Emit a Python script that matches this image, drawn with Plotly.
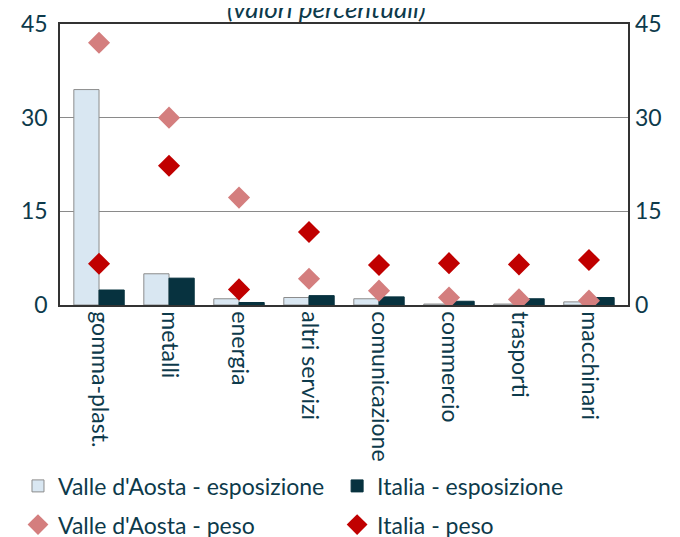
import plotly.graph_objects as go

categorie = ["gomma-plast.", "metalli", "energia", "altri servizi",
             "comunicazione", "commercio", "trasporti", "macchinari"]
vda_esposizione = [34.5, 5.0, 1.0, 1.2, 1.0, 0.15, 0.15, 0.5]
ita_esposizione = [2.4, 4.3, 0.4, 1.5, 1.3, 0.6, 1.0, 1.2]
vda_peso = [42.0, 30.0, 17.2, 4.2, 2.3, 1.2, 0.9, 0.7]
ita_peso = [6.6, 22.3, 2.5, 11.7, 6.4, 6.7, 6.5, 7.2]
tick_vals = [0, 15, 30, 45]

TEXT = "#0d3a4b"
FONT = "Lato"

fig = go.Figure()
fig.add_trace(go.Bar(
    x=categorie, y=vda_esposizione, name="Valle d'Aosta - esposizione",
    marker=dict(color="#d9e7f2", line=dict(color="#8c8c8c", width=1)),
    legend="legend",
))
fig.add_trace(go.Bar(
    x=categorie, y=ita_esposizione, name="Italia - esposizione",
    marker=dict(color="#07323f", line=dict(color="#07323f", width=1)),
    legend="legend2",
))
fig.add_trace(go.Scatter(
    x=categorie, y=vda_peso, name="Valle d'Aosta - peso", mode="markers",
    marker=dict(symbol="diamond", size=17, color="#d47e7e"),
    yaxis="y2", legend="legend3",
))
fig.add_trace(go.Scatter(
    x=categorie, y=ita_peso, name="Italia - peso", mode="markers",
    marker=dict(symbol="diamond", size=17, color="#c00000"),
    yaxis="y2", legend="legend4",
))

legend_common = dict(
    orientation="h", xanchor="left", yanchor="top",
    xref="container", yref="container",
    font=dict(family=FONT, size=23, color=TEXT),
    bgcolor="rgba(0,0,0,0)", itemclick=False,
)

col1, col2 = 0.0147, 0.484
row1, row2 = 0.150, 0.078

fig.update_layout(
    width=680, height=537,
    margin=dict(l=52, r=60, t=16, b=240, autoexpand=False),
    paper_bgcolor="white", plot_bgcolor="white",
    barmode="group", bargap=0.28, bargroupgap=0,
    font=dict(family=FONT, color=TEXT),
    showlegend=True,
    legend=dict(x=col1, y=row1, **legend_common),
    legend2=dict(x=col2, y=row1, **legend_common),
    legend3=dict(x=col1, y=row2, **legend_common),
    legend4=dict(x=col2, y=row2, **legend_common),
    xaxis=dict(
        tickangle=90, tickfont=dict(family=FONT, size=23, color=TEXT),
        showline=True, linecolor="#333333", linewidth=1.5, mirror=True,
        ticks="", showgrid=False,
    ),
    yaxis=dict(
        range=[0, 45], tickvals=tick_vals,
        tickfont=dict(family=FONT, size=23, color=TEXT),
        showgrid=True, gridcolor="#8a8a8a", gridwidth=1.2,
        showline=True, linecolor="#333333", linewidth=1.5, mirror=True,
        zeroline=False, ticks="", ticklabelstandoff=6,
    ),
    yaxis2=dict(
        range=[0, 45], tickvals=tick_vals, overlaying="y", side="right",
        tickfont=dict(family=FONT, size=23, color=TEXT),
        showgrid=False, zeroline=False, ticks="", ticklabelstandoff=6,
    ),
)

fig.add_annotation(
    text="<i>(valori percentuali)</i>", xref="paper", yref="paper",
    x=0.47, y=1, yanchor="middle", yshift=16, showarrow=False,
    font=dict(family=FONT, size=26, color=TEXT),
)

fig.write_html("out.html")
